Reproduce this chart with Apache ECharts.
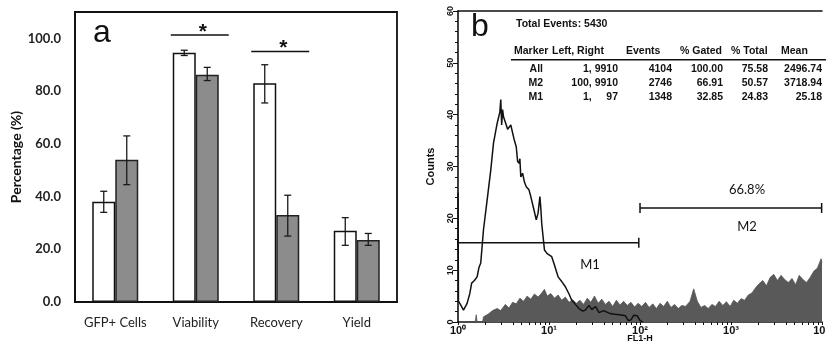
<!DOCTYPE html>
<html>
<head>
<meta charset="utf-8">
<script src="https://cdn.jsdelivr.net/npm/echarts@6/dist/echarts.min.js"></script>
<style>
  html, body { margin: 0; padding: 0; background: #fff; }
  #chart { width: 826px; height: 346px; }
</style>
</head>
<body>
<div id="chart"></div>
<script>
// panel a - bar chart
const categories = ['GFP+ Cells', 'Viability', 'Recovery', 'Yield']
const whiteVals = [38, 94.5, 83, 27]
const whiteErr = [[34, 42], [93.5, 95.5], [75.5, 90], [21.5, 32]]
const greyVals = [54, 86.2, 33, 23.5]
const greyErr = [[44.5, 63], [84, 89], [25, 40.5], [21.5, 26]]
const sigBrackets = [[1, 101.3], [2, 95]]
const yTicksA = [0, 20, 40, 60, 80, 100]

// panel b - flow histogram (x given as log10 of FL1-H channel)
const controlLog = [0, 0.005, 0.02, 0.06, 0.10, 0.13, 0.15, 0.18, 0.21, 0.23, 0.25, 0.28, 0.32, 0.36, 0.39, 0.43, 0.46, 0.47, 0.48, 0.49, 0.50, 0.525, 0.545, 0.56, 0.58, 0.60, 0.62, 0.64, 0.655, 0.67, 0.68, 0.69, 0.71, 0.73, 0.75, 0.78, 0.80, 0.83, 0.86, 0.88, 0.90, 0.91, 0.92, 0.95, 0.98, 1.03, 1.06, 1.10, 1.14, 1.18, 1.22, 1.25, 1.29, 1.33, 1.37, 1.40, 1.44, 1.47, 1.51, 1.55, 1.60, 1.66, 1.72, 1.78, 1.84, 1.87, 1.90, 1.93, 1.97, 2.0, 2.03]
const controlCounts = [25, 4.0, 3.6, 2.3, 3.6, 5.5, 7.5, 8.0, 8.7, 10.5, 11.4, 17.8, 23.5, 29.3, 34.5, 38.3, 40.5, 42.9, 38, 41, 39.6, 38.3, 37.2, 37, 38, 37.7, 35, 33.8, 31, 30.6, 31.5, 28, 28.7, 27, 26.1, 25.5, 24.2, 22, 19.7, 21, 24.2, 22, 19, 13.9, 13.2, 12.6, 11, 8.7, 7.8, 6.8, 5.4, 4.2, 3.4, 2.6, 2.1, 2.3, 3.2, 2.4, 3.0, 1.8, 2.2, 1.7, 1.5, 1.4, 1.2, 0.3, 0.4, 1.3, 1.2, 0.3, 0]
const sampleLog = [0.19, 0.2, 0.21, 0.27, 0.28, 0.33, 0.38, 0.43, 0.47, 0.52, 0.56, 0.60, 0.64, 0.68, 0.72, 0.76, 0.80, 0.84, 0.88, 0.92, 0.95, 0.98, 1.02, 1.06, 1.10, 1.14, 1.18, 1.22, 1.26, 1.30, 1.34, 1.38, 1.42, 1.46, 1.50, 1.54, 1.58, 1.62, 1.66, 1.70, 1.74, 1.78, 1.82, 1.86, 1.90, 1.94, 1.98, 2.02, 2.06, 2.10, 2.14, 2.18, 2.22, 2.26, 2.30, 2.34, 2.38, 2.42, 2.46, 2.50, 2.55, 2.59, 2.63, 2.67, 2.71, 2.75, 2.79, 2.83, 2.87, 2.91, 2.95, 2.99, 3.03, 3.07, 3.11, 3.15, 3.19, 3.23, 3.27, 3.31, 3.35, 3.39, 3.43, 3.47, 3.51, 3.55, 3.59, 3.63, 3.67, 3.71, 3.75, 3.79, 3.83, 3.87, 3.91, 3.95, 3.99, 4.0]
const sampleCounts = [0, 1.4, 0, 0, 1.0, 1.5, 2.2, 2.6, 2.2, 3.4, 2.7, 3.8, 3.5, 4.6, 4.0, 5.0, 4.4, 5.4, 4.8, 5.6, 6.3, 5.0, 5.5, 4.6, 5.2, 4.2, 4.8, 3.8, 4.3, 3.6, 4.2, 3.4, 4.6, 3.8, 5.0, 3.6, 4.4, 3.4, 4.0, 3.0, 4.2, 3.3, 4.0, 3.2, 3.8, 2.9, 3.6, 3.0, 3.8, 2.8, 3.5, 2.6, 3.6, 3.0, 4.0, 2.8, 3.4, 2.6, 3.2, 3.0, 4.0, 6.4, 4.0, 2.8, 3.2, 2.6, 3.4, 3.0, 4.0, 3.2, 3.9, 3.0, 4.2, 3.6, 4.5, 4.2, 5.2, 5.6, 6.6, 7.4, 8.0, 7.0, 8.6, 9.2, 8.0, 9.0, 8.2, 7.6, 8.4, 7.2, 9.0, 8.2, 7.6, 8.6, 9.8, 10.4, 12.2, 11.5]
// gates: [name, left channel, right channel, count level]
const gates = [['M1', 1, 97, 15.3], ['M2', 100, 9910, 22]]
const tableHeader = ['Marker', 'Left, Right', 'Events', '% Gated', '% Total', 'Mean']
const tableRows = [
  ['All', '1, 9910', '4104', '100.00', '75.58', '2496.74'],
  ['M2', '100, 9910', '2746', '66.91', '50.57', '3718.94'],
  ['M1', '1,     97', '1348', '32.85', '24.83', '25.18']
]
const totalEvents = 5430
const decades = [1, 10, 100, 1000, 10000]
const supDigits = ['⁰', '¹', '²', '³', '⁴']

const BAR_W = 23
const fontA = 'Lato, "Open Sans", sans-serif'
const fontB = '"Liberation Sans", Arial, sans-serif'

const toPairs = (logs, counts) => logs.map((e, i) => [Math.pow(10, e), counts[i]])
const errData = (errs) => errs.map((e, i) => [i, e[0], e[1]])
// log-axis minor ticks: 1..9 x each decade
const logTicks = []
decades.slice(0, 4).forEach((d) => { for (let k = 1; k < 10; k++) logTicks.push(d * k) })
logTicks.push(10000)

function errorBar(offset) {
  return function (params, api) {
    const x = api.coord([api.value(0), 0])[0] + offset
    const lo = api.coord([api.value(0), api.value(1)])[1]
    const hi = api.coord([api.value(0), api.value(2)])[1]
    const st = { stroke: '#1a1a1a', lineWidth: 1.3 }
    return {
      type: 'group',
      children: [
        { type: 'line', shape: { x1: x, y1: lo, x2: x, y2: hi }, style: st },
        { type: 'line', shape: { x1: x - 3.5, y1: lo, x2: x + 3.5, y2: lo }, style: st },
        { type: 'line', shape: { x1: x - 3.5, y1: hi, x2: x + 3.5, y2: hi }, style: st }
      ]
    }
  }
}

function sigItem(params, api) {
  const p = api.coord([api.value(0), api.value(1)])
  return {
    type: 'group',
    children: [
      { type: 'line', shape: { x1: p[0] - 25, y1: p[1], x2: p[0] + 33, y2: p[1] }, style: { stroke: '#111', lineWidth: 1.5 } },
      { type: 'text', x: p[0] + 7, y: p[1] - 3, style: { text: '*', font: 'bold 21px ' + fontB, fill: '#111', align: 'center', verticalAlign: 'middle' } }
    ]
  }
}

function gateItem(params, api) {
  const a = api.coord([api.value(1), api.value(3)])
  const b = api.coord([api.value(2), api.value(3)])
  const st = { stroke: '#111', lineWidth: 1.5 }
  return {
    type: 'group',
    children: [
      { type: 'line', shape: { x1: a[0], y1: a[1], x2: b[0], y2: b[1] }, style: st },
      { type: 'line', shape: { x1: a[0], y1: a[1] - 5, x2: a[0], y2: a[1] + 5 }, style: st },
      { type: 'line', shape: { x1: b[0], y1: b[1] - 5, x2: b[0], y2: b[1] + 5 }, style: st }
    ]
  }
}

// table as text
const colRight = [543, 618, 672, 723, 768, 822]
const headLeft = [514, 552, 626, 680, 731, 781]
const tableFont = 'bold 10.5px ' + fontB
const tableText = []
tableText.push({ type: 'text', left: 516, top: 19, style: { text: 'Total Events: ' + totalEvents, font: tableFont, fill: '#111' } })
tableHeader.forEach((h, i) => {
  tableText.push({ type: 'text', left: headLeft[i], top: 46, style: { text: h, font: tableFont, fill: '#111' } })
})
tableText.push({ type: 'rect', shape: { x: 511, y: 59, width: 315, height: 1.6 }, style: { fill: '#111' } })
tableRows.forEach((row, r) => {
  row.forEach((cell, c) => {
    tableText.push({
      type: 'text', x: colRight[c], y: 69.5 + r * 14,
      style: { text: cell, font: tableFont, fill: '#111', align: 'right', verticalAlign: 'middle' }
    })
  })
})

const option = {
  animation: false,
  grid: [
    { left: 75, top: 12, width: 322, height: 290, show: true, borderColor: '#111', borderWidth: 1.8, outerBoundsMode: 'none', containLabel: false },
    { left: 458, top: 11, width: 364, height: 311, outerBoundsMode: 'none', containLabel: false }
  ],
  xAxis: [
    {
      type: 'category', gridIndex: 0, data: categories,
      axisLine: { lineStyle: { color: '#111', width: 1.8 } },
      axisTick: { inside: true, length: 4, lineStyle: { color: '#111' } },
      axisLabel: { interval: 0, color: '#222', fontFamily: fontA, fontSize: 13, margin: 14 }
    },
    {
      type: 'log', gridIndex: 1, logBase: 10, min: 1, max: 10000,
      name: 'FL1-H', nameLocation: 'middle', nameGap: 12, nameMoveOverlap: false,
      nameTextStyle: { fontFamily: fontB, fontSize: 9, fontWeight: 'bold', color: '#111' },
      axisLine: { lineStyle: { color: '#111', width: 1.6 } },
      axisTick: { length: 3, customValues: logTicks, lineStyle: { color: '#111' } },
      splitLine: { show: false },
      axisLabel: {
        margin: 3, fontFamily: fontB, fontSize: 11, fontWeight: 'bold', color: '#111',
        customValues: decades,
        formatter: (v) => '10' + supDigits[Math.round(Math.log10(v))]
      }
    },
    {
      type: 'log', gridIndex: 1, logBase: 10, min: 1, max: 10000, position: 'top',
      axisLine: { lineStyle: { color: '#111', width: 1.6 } },
      axisTick: { show: false }, axisLabel: { show: false }, splitLine: { show: false }
    }
  ],
  yAxis: [
    {
      type: 'value', gridIndex: 0, min: 0, max: 110, interval: 20,
      name: 'Percentage (%)', nameLocation: 'middle', nameGap: 50,
      nameTextStyle: { fontFamily: fontA, fontSize: 14, fontWeight: 'bold', color: '#111' },
      axisLine: { show: true, lineStyle: { color: '#111', width: 1.8 } },
      axisTick: { inside: true, length: 3, lineStyle: { color: '#111' } },
      splitLine: { show: false },
      axisLabel: {
        showMaxLabel: false, margin: 14, fontFamily: fontA, fontSize: 13, fontWeight: 'bold', color: '#222',
        formatter: (v) => (yTicksA.indexOf(v) >= 0 ? v.toFixed(1) : '')
      }
    },
    {
      type: 'value', gridIndex: 1, min: 0, max: 60, interval: 10,
      name: 'Counts', nameLocation: 'middle', nameGap: 22,
      nameTextStyle: { fontFamily: fontB, fontSize: 11, fontWeight: 'bold', color: '#111' },
      axisLine: { show: true, lineStyle: { color: '#111', width: 1.6 } },
      axisTick: { length: 5, lineStyle: { color: '#111' } },
      minorTick: { show: true, splitNumber: 5, length: 3, lineStyle: { color: '#111' } },
      splitLine: { show: false },
      axisLabel: { rotate: 90, margin: 3, fontFamily: fontB, fontSize: 9, fontWeight: 'bold', color: '#111' }
    }
  ],
  series: [
    {
      type: 'bar', xAxisIndex: 0, yAxisIndex: 0, data: whiteVals, barWidth: BAR_W, barGap: '0%',
      itemStyle: { color: '#fff', borderColor: '#111', borderWidth: 1.5 }
    },
    {
      type: 'bar', xAxisIndex: 0, yAxisIndex: 0, data: greyVals, barWidth: BAR_W, barGap: '0%',
      itemStyle: { color: '#8c8c8c', borderColor: '#222', borderWidth: 1.5 }
    },
    { type: 'custom', xAxisIndex: 0, yAxisIndex: 0, data: errData(whiteErr), renderItem: errorBar(-BAR_W / 2), z: 5 },
    { type: 'custom', xAxisIndex: 0, yAxisIndex: 0, data: errData(greyErr), renderItem: errorBar(BAR_W / 2), z: 5 },
    { type: 'custom', xAxisIndex: 0, yAxisIndex: 0, data: sigBrackets, renderItem: sigItem, z: 5 },
    {
      type: 'line', xAxisIndex: 1, yAxisIndex: 1, data: toPairs(sampleLog, sampleCounts),
      symbol: 'none', lineStyle: { width: 0.8, color: '#555' }, areaStyle: { color: '#595959', opacity: 1 }, z: 2
    },
    {
      type: 'line', xAxisIndex: 1, yAxisIndex: 1, data: toPairs(controlLog, controlCounts),
      symbol: 'none', lineStyle: { width: 1.5, color: '#111' }, z: 3
    },
    { type: 'custom', xAxisIndex: 1, yAxisIndex: 1, data: gates.map((g) => [g[0], g[1], g[2], g[3]]), encode: { x: [1, 2], y: 3 }, renderItem: gateItem, z: 4 }
  ],
  graphic: [
    { type: 'text', left: 93, top: 17, style: { text: 'a', font: '32px ' + fontB, fill: '#111' } },
    { type: 'text', left: 471, top: 11, style: { text: 'b', font: '32px ' + fontB, fill: '#111' } },
    { type: 'text', x: 590, y: 265, style: { text: 'M1', font: '13px ' + fontA, fill: '#111', align: 'center', verticalAlign: 'middle' } },
    { type: 'text', x: 747, y: 227, style: { text: 'M2', font: '13px ' + fontA, fill: '#111', align: 'center', verticalAlign: 'middle' } },
    { type: 'text', x: 747, y: 190, style: { text: '66.8%', font: '13px ' + fontA, fill: '#111', align: 'center', verticalAlign: 'middle' } }
  ].concat(tableText)
}

const chart = echarts.init(document.getElementById('chart'))
chart.setOption(option)
</script>
</body>
</html>
